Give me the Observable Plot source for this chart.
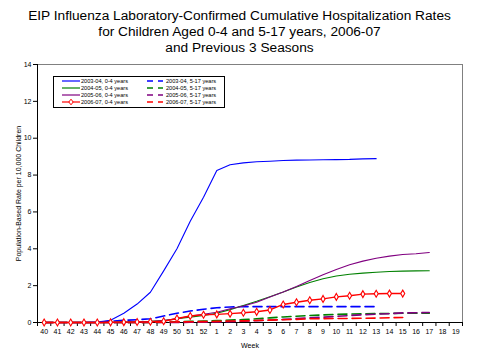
<!DOCTYPE html>
<html>
<head>
<meta charset="utf-8">
<script src="https://cdn.jsdelivr.net/npm/d3@7"></script>
<script src="https://cdn.jsdelivr.net/npm/@observablehq/plot@0.6"></script>
<style>
  body { margin: 0; background: #fff; font-family: "Liberation Sans", Arial, sans-serif; }
  #wrap { position: relative; width: 479px; height: 360px; overflow: hidden; }
  #title { height: 56px; box-sizing: border-box; padding-top: 8px; text-align: center; font-size: 13.7px; line-height: 16px; color: #000; }
  #legend { position: absolute; left: 53px; top: 76px; }
</style>
</head>
<body>
<div id="wrap">
  <div id="title">EIP Influenza Laboratory-Confirmed Cumulative Hospitalization Rates<br>for Children Aged 0-4 and 5-17 years, 2006-07<br>and Previous 3 Seasons</div>
  <div id="chart"></div>
  <div id="legend"></div>
</div>
<script>
const weeks = ["40","41","42","43","44","45","46","47","48","49","50","51","52",
  "1","2","3","4","5","6","7","8","9","10","11","12","13","14","15","16","17","18","19"];
const yTicks = [0, 2, 4, 6, 8, 10, 12, 14];

const names = ["2003-04, 0-4 years","2004-05, 0-4 years","2005-06, 0-4 years","2006-07, 0-4 years",
  "2003-04, 5-17 years","2004-05, 5-17 years","2005-06, 5-17 years","2006-07, 5-17 years"];
const colors = ["#0000FF","#008000","#800080","#FF0000","#0000FF","#008000","#800080","#FF0000"];

const y0304_04 = [0,0,0,0,0.02,0.12,0.5,1.0,1.64,2.8,4.0,5.5,6.8,8.25,8.56,8.66,8.72,8.75,8.79,8.81,8.82,8.83,8.84,8.85,8.88,8.89];
const y0405_04 = [0,0,0,0,0,0,0.02,0.04,0.06,0.1,0.2,0.29,0.38,0.5,0.7,0.92,1.15,1.4,1.65,1.93,2.17,2.37,2.52,2.62,2.68,2.73,2.77,2.79,2.8,2.81];
const y0506_04 = [0,0,0,0,0,0,0.01,0.03,0.05,0.1,0.2,0.35,0.45,0.56,0.75,0.9,1.1,1.38,1.65,1.95,2.28,2.59,2.88,3.13,3.33,3.49,3.6,3.69,3.73,3.8];
const y0607_04 = [0,0,0,0,0,0.01,0.02,0.03,0.04,0.07,0.22,0.35,0.42,0.44,0.48,0.53,0.58,0.68,0.98,1.1,1.21,1.28,1.39,1.45,1.54,1.56,1.57,1.57];
const y0304_517 = [0,0,0,0,0,0.07,0.12,0.15,0.2,0.35,0.5,0.62,0.72,0.8,0.84,0.86,0.86,0.86,0.86,0.86,0.86,0.86,0.86,0.86,0.86,0.86];
const y0405_517 = [0,0,0,0,0,0,0,0,0,0.02,0.04,0.06,0.08,0.1,0.13,0.16,0.2,0.25,0.3,0.34,0.38,0.41,0.44,0.46,0.47,0.48,0.49,0.5,0.5,0.5];
const y0506_517 = [0,0,0,0,0,0,0,0,0,0,0,0.01,0.02,0.03,0.05,0.07,0.1,0.13,0.17,0.21,0.25,0.29,0.33,0.38,0.42,0.45,0.48,0.52,0.53,0.54];
const y0607_517 = [0,0,0,0,0,0,0,0,0.01,0.02,0.03,0.04,0.05,0.06,0.08,0.09,0.11,0.13,0.15,0.17,0.2,0.21,0.22,0.22,0.23,0.24,0.26,0.27];

const seriesVals = [y0304_04, y0405_04, y0506_04, y0607_04, y0304_517, y0405_517, y0506_517, y0607_517];
const rows = k => seriesVals[k].map((v, i) => ({i, v, s: names[k]}));

const dashedMarks = [4,5,6,7].map(k => Plot.line(rows(k), {x: "i", y: "v", stroke: colors[k], strokeWidth: 1.6, strokeDasharray: "9,5"}));
const solidMarks = [0,1,2].map(k => Plot.line(rows(k), {x: "i", y: "v", stroke: colors[k], strokeWidth: 1.1}));

const chart = Plot.plot({
  width: 479, height: 304,
  marginTop: 8, marginBottom: 38, marginLeft: 37, marginRight: 17,
  style: {fontFamily: "Liberation Sans, Arial, sans-serif", background: "#fff", color: "#000"},
  x: {domain: [-0.5, weeks.length - 0.5]},
  y: {domain: [0, 14]},
  marks: [
    Plot.frame({stroke: "#808080"}),
    Plot.axisY(yTicks, {tickSize: 4, tickPadding: 2, fontSize: 7, label: "Population-Based Rate per 10,000 Children", labelAnchor: "center", labelOffset: 21, labelArrow: "none"}),
    Plot.axisX(d3.range(weeks.length), {tickSize: 0, tickPadding: 7, fontSize: 7, tickFormat: i => weeks[i], label: "Week", labelAnchor: "center", labelOffset: 25, labelArrow: "none"}),
    Plot.axisX(d3.range(-0.5, weeks.length, 1), {tickSize: 4, tickFormat: () => "", label: null}),
    Plot.ruleX([-0.5], {stroke: "#000"}),
    Plot.ruleY([0], {stroke: "#000"}),
    ...dashedMarks,
    ...solidMarks,
    Plot.line(rows(3), {x: "i", y: "v", stroke: colors[3], strokeWidth: 1.4}),
    Plot.dot(rows(3), {x: "i", y: "v", symbol: "diamond", r: 2.1, stroke: colors[3], fill: "#fff", strokeWidth: 1.1})
  ]
});
document.getElementById("chart").append(chart);

// legend
const lw = 172, lh = 32;
const lg = d3.select("#legend").append("svg").attr("width", lw).attr("height", lh)
  .style("font-family", "Liberation Sans, Arial, sans-serif");
lg.append("rect").attr("x", 0.5).attr("y", 0.5).attr("width", lw - 1).attr("height", lh - 1)
  .attr("fill", "#fff").attr("stroke", "#000");
for (let k = 0; k < 8; k++) {
  const col = k < 4 ? 0 : 1, row = k % 4;
  const cy = 5 + row * 7;
  const x1 = col === 0 ? 9 : 94, x2 = col === 0 ? 27 : 110, tx = col === 0 ? 28 : 113;
  lg.append("line").attr("x1", x1).attr("x2", x2).attr("y1", cy).attr("y2", cy)
    .attr("stroke", colors[k]).attr("stroke-width", col === 0 ? 1.2 : 1.6)
    .attr("stroke-dasharray", col === 0 ? null : "6,5");
  if (k === 3) {
    const mx = (x1 + x2) / 2;
    lg.append("path").attr("d", `M${mx},${cy-2.8}L${mx+2.2},${cy}L${mx},${cy+2.8}L${mx-2.2},${cy}Z`)
      .attr("fill", "#fff").attr("stroke", colors[3]).attr("stroke-width", 1);
  }
  lg.append("text").attr("x", tx).attr("y", cy).attr("dy", "0.35em")
    .attr("font-size", 5.6).attr("fill", "#000").text(names[k]);
}
</script>
</body>
</html>
